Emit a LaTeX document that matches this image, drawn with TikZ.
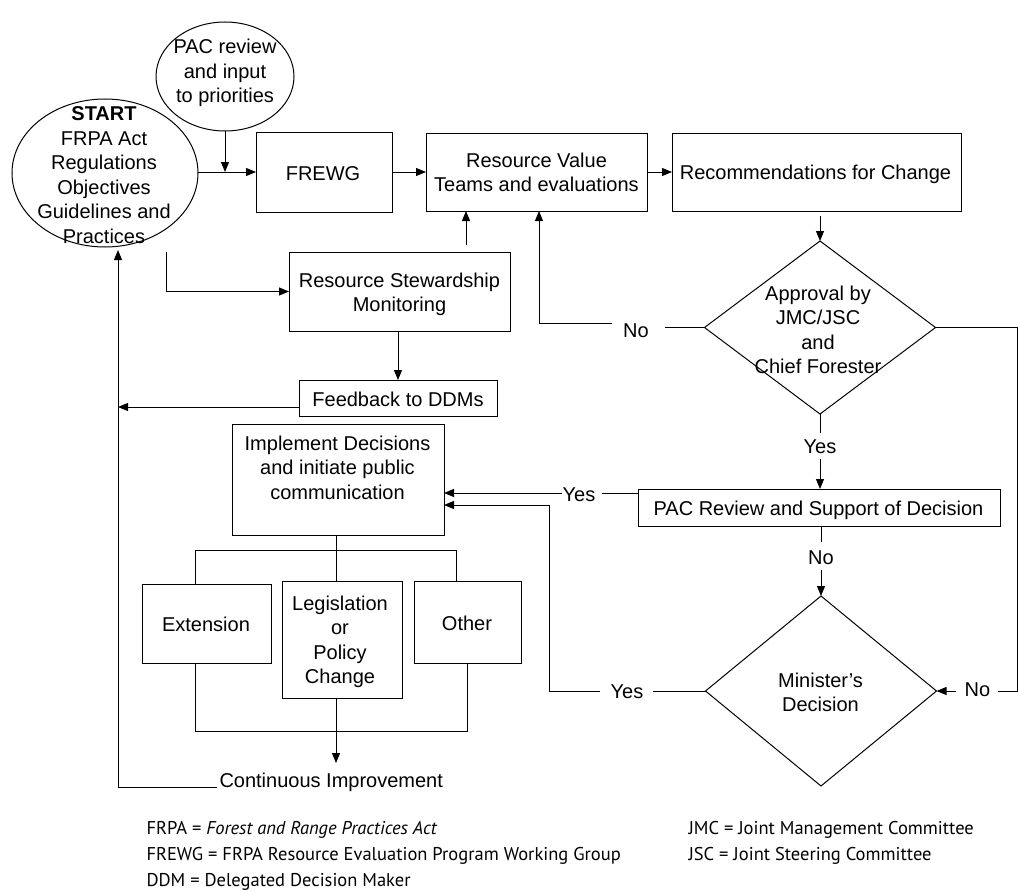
\documentclass[tikz,border=0pt]{standalone}
\usepackage{fontspec}
\setmainfont{Liberation Sans}
\newfontfamily\legendfont{PT Sans}
\usetikzlibrary{shapes.geometric,arrows.meta}
\begin{document}
\begin{tikzpicture}[x=1pt,y=-1pt,line width=1pt,
  txt/.style={font=\fontsize{20}{24.5}\selectfont,inner sep=0pt,anchor=base},
  shp/.style={draw,inner sep=0pt,outer sep=0pt},
  arr/.style={-{Triangle[length=10pt,width=8pt]}},
  leg/.style={font=\legendfont\fontsize{18.5}{26}\selectfont,inner sep=0pt,anchor=base west}]
\useasboundingbox (0,0) rectangle (1018,891);
% shapes
\node[shp,ellipse,minimum width=138pt,minimum height=109pt] (pac) at (225,76.5) {};
\node[shp,ellipse,minimum width=186pt,minimum height=148pt] (start) at (105,173) {};
\node[shp,minimum width=136pt,minimum height=80pt] (frewg) at (324,172) {};
\node[shp,minimum width=221pt,minimum height=78pt] (rv) at (536.5,172) {};
\node[shp,minimum width=289pt,minimum height=78pt] (rec) at (816.5,172) {};
\node[shp,diamond,minimum width=231pt,minimum height=173pt] (appr) at (820,327.5) {};
\node[shp,minimum width=221pt,minimum height=79pt] (rsm) at (399.5,291.5) {};
\node[shp,minimum width=198pt,minimum height=36pt] (fb) at (398,398) {};
\node[shp,minimum width=212pt,minimum height=111pt] (impl) at (338,479.5) {};
\node[shp,minimum width=362pt,minimum height=37pt] (pacr) at (819,507.5) {};
\node[shp,minimum width=129pt,minimum height=79pt] (ext) at (206.5,623.5) {};
\node[shp,minimum width=120pt,minimum height=117pt] (legis) at (342,639.5) {};
\node[shp,minimum width=107pt,minimum height=82pt] (oth) at (467.5,622) {};
\node[shp,diamond,minimum width=231pt,minimum height=190pt] (mini) at (821,691) {};
% texts
\node[txt] (tpac) at (225,54) {\begin{tabular}[t]{@{}c@{}}PAC review\\and input\\to priorities\end{tabular}};
\node[txt] (tstart) at (104,121) {\begin{tabular}[t]{@{}c@{}}\textbf{START}\\FRPA Act\\Regulations\\Objectives\\Guidelines and\\Practices\end{tabular}};
\node[txt] (tfrewg) at (323,180) {FREWG};
\node[txt] (trv) at (536.5,167) {\begin{tabular}[t]{@{}c@{}}Resource Value\\Teams and evaluations\end{tabular}};
\node[txt] (trec) at (815.5,179) {Recommendations for Change};
\node[txt] (tappr) at (818,300) {\begin{tabular}[t]{@{}c@{}}Approval by\\JMC/JSC\\and\\Chief Forester\end{tabular}};
\node[txt] (trsm) at (399.5,287) {\begin{tabular}[t]{@{}c@{}}Resource Stewardship\\Monitoring\end{tabular}};
\node[txt] (tfb) at (398,406) {Feedback to DDMs};
\node[txt] (timpl) at (337.5,450) {\begin{tabular}[t]{@{}c@{}}Implement Decisions\\and initiate public\\communication\end{tabular}};
\node[txt] (tpacr) at (818.5,515) {PAC Review and Support of Decision};
\node[txt] (text) at (206,631) {Extension};
\node[txt] (tlegis) at (340,610) {\begin{tabular}[t]{@{}c@{}}Legislation\\or\\Policy\\Change\end{tabular}};
\node[txt] (toth) at (467,630) {Other};
\node[txt] (tmini) at (820.5,687) {\begin{tabular}[t]{@{}c@{}}Minister's\\Decision\end{tabular}};
\node[txt,anchor=base west] (ci) at (219,787) {Continuous Improvement};
% branch labels
\node[txt] (noA) at (636,337) {No};
\node[txt] (yesA) at (820,453) {Yes};
\node[txt] (noB) at (977.5,696) {No};
\node[txt] (yesP) at (579,501) {Yes};
\node[txt] (noP) at (821,564) {No};
\node[txt] (yesM) at (627,698) {Yes};
% connectors
\draw[arr] (start.east |- frewg.west) -- (frewg.west);
\draw[arr] (pac.south) -- (pac.south |- frewg.west);
\draw[arr] (frewg.east) -- (rv.west);
\draw[arr] (rv.east) -- (rec.west);
\draw[arr] ([yshift=-5pt]appr.north |- rec.south) -- (appr.north);
\draw[arr] (466,245) -- (466,211);
\draw[arr] (166,252) |- (rsm.west);
\draw[arr] (rsm.south -| fb.north) -- (fb.north);
\draw[arr] ([yshift=-9pt]fb.west) -- (118,407);
\draw[arr] ([xshift=-2pt]ci.base west) -- (118,787) -- (118,250);
\draw (336,535) -- (336,581);
\draw (195,584) -- (195,550) -- (456,550) -- (456,581);
\draw (195,663) -- (195,731) -- (467,731) -- (467,663);
\draw[arr] (336,698) -- (336,763);
% approval branches
\draw (appr.west) -- (665,327.5);
\draw[arr] (612,323) -- (539,323) -- (539,211);
\draw (appr.east) -- (1017,327.5) -- (1017,691) -- (998,691);
\draw[arr] (956,691) -- (mini.east);
\draw (appr.south) -- (820,433);
\draw[arr] (820,459) -- (820,489);
% PAC review branches
\draw (638,493) -- (602,493);
\draw[arr] (562,493) -- (444,493);
\draw (821,526) -- (821,542);
\draw[arr] (821,570) -- (mini.north);
% minister branch
\draw (mini.west) -- (653,691);
\draw[arr] (600,691) -- (549,691) -- (549,505) -- (444,505);
% legend
\node[leg] (l1) at (146,834) {FRPA = \textit{Forest and Range Practices Act}};
\node[leg] (l2) at (146,860) {FREWG = FRPA Resource Evaluation Program Working Group};
\node[leg] (l3) at (146,886) {DDM = Delegated Decision Maker};
\node[leg] (l4) at (688,834) {JMC = Joint Management Committee};
\node[leg] (l5) at (688,860) {JSC = Joint Steering Committee};
\end{tikzpicture}
\end{document}
